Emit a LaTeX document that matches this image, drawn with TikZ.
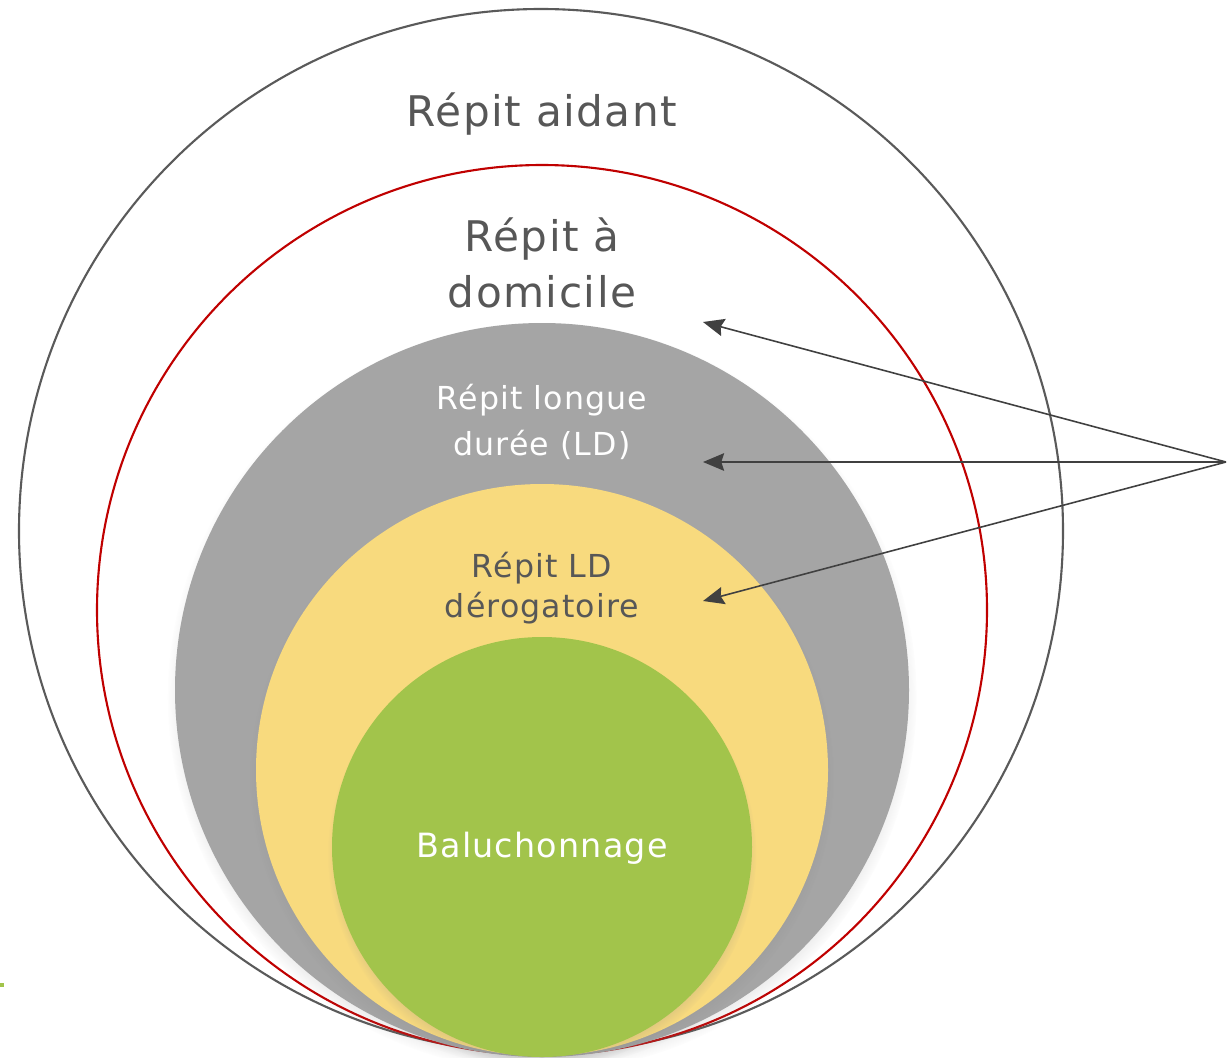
\documentclass[tikz,border=0pt]{standalone}
\usepackage{fontspec}
\setmainfont[LetterSpace=3.5]{DejaVu Sans}
\usetikzlibrary{arrows.meta,shadows}

\definecolor{TextGrey}{HTML}{575757}
\definecolor{LineGrey}{HTML}{5A5A5A}
\definecolor{BorderRed}{HTML}{C00000}
\definecolor{CircleGrey}{HTML}{A5A5A5}
\definecolor{CircleYellow}{HTML}{F8DA7E}
\definecolor{CircleGreen}{HTML}{A2C44B}
\definecolor{ArrowGrey}{HTML}{404040}

\begin{document}
\begin{tikzpicture}[x=0.01cm,y=-0.01cm,
  darktext/.style={text=TextGrey,align=center},
  lighttext/.style={text=white,align=center},
  bigtext/.style={font=\fontsize{12}{16}\selectfont},
  smalltext/.style={font=\fontsize{9}{11.5}\selectfont},
  pointer/.style={draw=ArrowGrey,line width=0.45pt,-{Stealth[length=6pt,width=5pt,inset=0.8pt]}},
  softshadow/.style={circular drop shadow={shadow xshift=0pt,shadow yshift=-2pt,shadow scale=1.02,opacity=0.5}}]

%Frame
\useasboundingbox (0,0) rectangle (1227,1057);

%Repit aidant
\draw [line width=0.6pt,draw=LineGrey,fill=white] (541,531) circle (522);
%Repit a domicile
\draw [line width=0.6pt,draw=BorderRed,fill=white] (542,610) circle (445);
%longue duree
\fill [CircleGrey,softshadow] (542,690) circle (367);
%derogatoire
\fill [CircleYellow,softshadow] (542,770) circle (286);
%baluchonnage
\fill [CircleGreen,softshadow] (542,847) circle (210);

%small mark on the left border
\fill [CircleGreen] (0,983) rectangle (4,987);

%Labels
\node[darktext,bigtext,anchor=base] (aidant) at (542,126) {Répit aidant};
\node[darktext,bigtext] (domicile) at (542,263) {Répit à\\domicile};
\node[lighttext,font=\fontsize{9}{13}\selectfont] (longue) at (542,422) {Répit longue\\durée (LD)};
\node[darktext,smalltext] (derog) at (542,588) {Répit LD\\dérogatoire};
\node[lighttext,anchor=base,font=\fontsize{9.5}{12}\selectfont] (baluch) at (542,857) {Baluchonnage};

%Arrows
\coordinate (src) at (1226,462);
\coordinate (tipdomicile) at (703,322);
\coordinate (tiplongue) at (703,462);
\coordinate (tipderog) at (703,601);
\draw [pointer] (src) -- (tipdomicile);
\draw [pointer] (src) -- (tiplongue);
\draw [pointer] (src) -- (tipderog);

\end{tikzpicture}
\end{document}
